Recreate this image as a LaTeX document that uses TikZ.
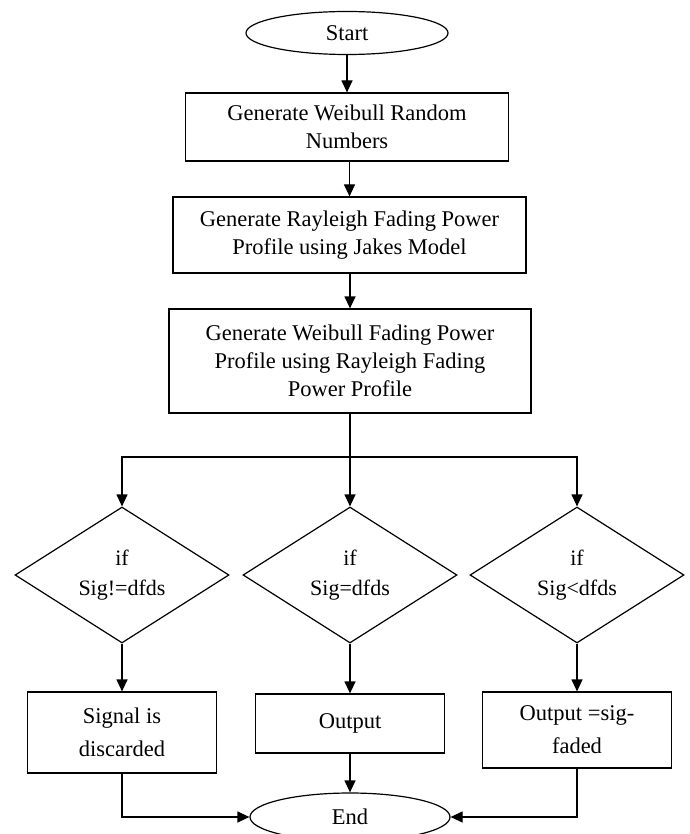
\documentclass[tikz,border=0pt]{standalone}
\usepackage{fontspec}
\setmainfont{Liberation Serif}
\usetikzlibrary{shapes.geometric,arrows.meta}
\begin{document}
\begin{tikzpicture}[x=1pt,y=-1pt,
  line width=1.2pt,
  arr/.style={-{Triangle[width=11pt,length=12pt]}},
  txt/.style={font=\fontsize{22.5}{28}\selectfont, align=center, inner sep=0pt},
  procbox/.style={draw, rectangle, txt},
  term/.style={draw, ellipse, txt},
  decide/.style={draw, diamond, aspect=1.6, inner sep=0pt, minimum width=214pt, minimum height=136pt, font=\fontsize{22}{30}\selectfont, align=center},
  lowbox/.style={draw, rectangle, txt, font=\fontsize{22.5}{33}\selectfont, minimum width=189pt}
]
\useasboundingbox (0,0) rectangle (689,834);
\fill[white] (0,0) rectangle (689,834);

\node[term, minimum width=202pt, minimum height=43pt] (start) at (347,33) {Start};
\node[procbox, minimum width=323pt, minimum height=68pt] (b1) at (347,127) {Generate Weibull Random\\Numbers};
\node[procbox, minimum width=353pt, minimum height=76pt] (b2) at (349.5,235) {Generate Rayleigh Fading Power\\Profile using Jakes Model};
\node[procbox, minimum width=362pt, minimum height=104pt] (b3) at (350,361) {Generate Weibull Fading Power\\Profile using Rayleigh Fading\\Power Profile};

\node[decide] (d1) at (122,575) {if\\Sig!=dfds};
\node[decide] (d2) at (350,575) {if\\Sig=dfds};
\node[decide] (d3) at (577,575) {if\\Sig<dfds};

\node[lowbox, minimum height=81pt] (o1) at (122,732.5) {Signal is\\discarded};
\node[lowbox, minimum height=59pt] (o2) at (350,723.5) {Output};
\node[lowbox, minimum height=76pt] (o3) at (577,730) {Output =sig-\\faded};

\node[term, minimum width=200pt, minimum height=48pt] (end) at (350,817) {End};

\draw[arr] (start.south) -- (start.south |- b1.north);
\draw[arr] (b1.south -| b2.north) -- (b2.north);
\draw[arr] (b2.south -| b3.north) -- (b3.north);
\coordinate (sp) at (350,457);
\draw (b3.south) -- (sp);
\draw[arr] (sp) -- (d2.north);
\draw[arr] (sp) -| (d1.north);
\draw[arr] (sp) -| (d3.north);

\draw[arr] (d1.south) -- (o1.north);
\draw[arr] (d2.south) -- (o2.north);
\draw[arr] (d3.south) -- (o3.north);

\draw[arr] (o1.south) |- (end.west);
\draw[arr] (o2.south) -- (end.north);
\draw[arr] (o3.south) |- (end.east);
\end{tikzpicture}
\end{document}
